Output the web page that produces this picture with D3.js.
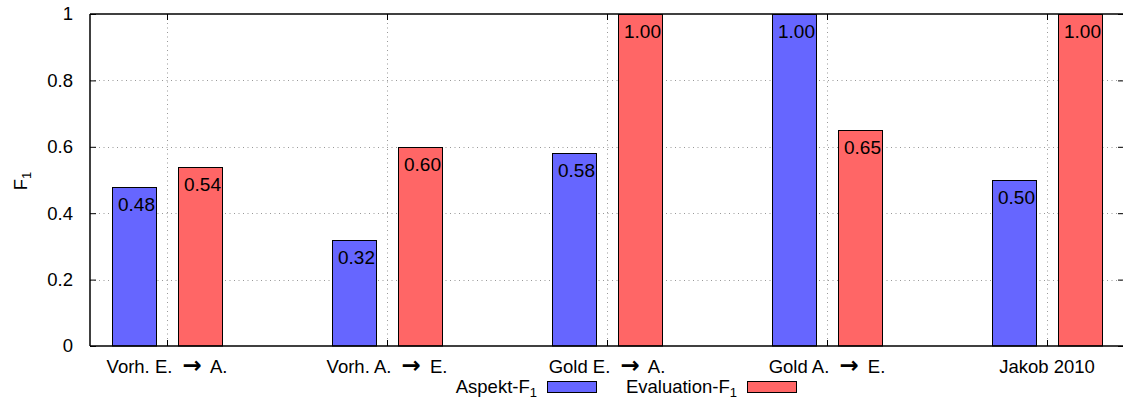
<!DOCTYPE html>
<html>
<head>
<meta charset="utf-8">
<script src="https://cdn.jsdelivr.net/npm/d3@7"></script>
<style>
  html, body { margin: 0; padding: 0; background: #fff; }
  svg { display: block; font-family: "Liberation Sans", Arial, Helvetica, sans-serif; }
</style>
</head>
<body>
<svg id="chart" width="1123" height="399"></svg>
<script>
// Setups compared (source, target) and the Jakob 2010 baseline
const categories = [
  ["Vorh. E.", "A."],
  ["Vorh. A.", "E."],
  ["Gold E.", "A."],
  ["Gold A.", "E."],
  ["Jakob 2010", null]
];
const aspektF1 = [0.48, 0.32, 0.58, 1.00, 0.50];
const evaluationF1 = [0.54, 0.60, 1.00, 0.65, 1.00];
const yTicks = [0, 0.2, 0.4, 0.6, 0.8, 1];
const seriesNames = ["Aspekt", "Evaluation"];
const seriesColors = ["#6666ff", "#ff6666"];

const svg = d3.select("#chart");
const plotL = 90, plotR = 1124, plotT = 14, plotB = 346;
const fontSize = 18.5;

const x = d3.scaleLinear().domain([-0.35, 4.35]).range([plotL, plotR]);
const y = d3.scaleLinear().domain([0, 1]).range([plotB, plotT]);

const barOffset = 0.15, barWidth = 0.2;

// grid
const grid = svg.append("g").attr("stroke", "#999").attr("stroke-width", 1)
  .attr("stroke-dasharray", "1,3.5");
grid.selectAll("line.h").data(yTicks.slice(1, -1)).join("line")
  .attr("x1", plotL).attr("x2", plotR)
  .attr("y1", d => Math.round(y(d)) + 0.5).attr("y2", d => Math.round(y(d)) + 0.5);
grid.selectAll("line.v").data(d3.range(categories.length)).join("line")
  .attr("x1", d => Math.round(x(d)) + 0.5).attr("x2", d => Math.round(x(d)) + 0.5)
  .attr("y1", plotT).attr("y2", plotB);

// bars
const series = [aspektF1, evaluationF1];
series.forEach((vals, s) => {
  const off = s === 0 ? -barOffset : barOffset;
  const g = svg.append("g");
  g.selectAll("rect").data(vals).join("rect")
    .attr("x", (d, i) => Math.round(x(i + off - barWidth / 2)) + 0.5)
    .attr("width", Math.round(x(barWidth) - x(0)))
    .attr("y", d => Math.round(y(d)) + 0.5)
    .attr("height", d => y(0) - Math.round(y(d)) - 0.5)
    .attr("fill", seriesColors[s])
    .attr("stroke", "#000").attr("stroke-width", 1);
  g.selectAll("text").data(vals).join("text")
    .attr("x", (d, i) => x(i + off + barWidth / 2) - 1)
    .attr("y", d => y(d) + 24)
    .attr("text-anchor", "end")
    .attr("font-size", 19)
    .attr("fill", "#000")
    .text(d => d.toFixed(2));
});

// frame
const frame = svg.append("g").attr("stroke", "#000").attr("stroke-width", 1.5).attr("fill", "none");
frame.append("line").attr("x1", plotL).attr("x2", plotL).attr("y1", plotT).attr("y2", plotB);
frame.append("line").attr("x1", plotL).attr("x2", plotR).attr("y1", plotB).attr("y2", plotB);
frame.append("line").attr("x1", plotL).attr("x2", plotR).attr("y1", plotT).attr("y2", plotT);
frame.append("line").attr("x1", plotR).attr("x2", plotR).attr("y1", plotT).attr("y2", plotB);

// y axis (ticks inward, mirrored on the right)
const yAxis = d3.axisLeft(y).tickValues(yTicks).tickSize(-6).tickPadding(17)
  .tickFormat(d => d === 0 || d === 1 ? String(d) : d3.format(".1f")(d));
const ya = svg.append("g").attr("transform", `translate(${plotL},0)`).call(yAxis);
ya.select(".domain").remove();
ya.selectAll("line").attr("stroke", "#000").attr("stroke-width", 1);
ya.selectAll("text").attr("font-size", fontSize).attr("font-family", "Liberation Sans, Arial, sans-serif").attr("fill", "#000");

const yR = svg.append("g").attr("transform", `translate(${plotR},0)`).call(d3.axisRight(y).tickValues(yTicks).tickSize(-6).tickFormat(""));
yR.select(".domain").remove();
yR.selectAll("line").attr("stroke", "#000");

// x ticks inward at bottom and top
const xTickG = svg.append("g").attr("stroke", "#000").attr("stroke-width", 1);
xTickG.selectAll("line.b").data(d3.range(categories.length)).join("line")
  .attr("x1", d => Math.round(x(d)) + 0.5).attr("x2", d => Math.round(x(d)) + 0.5)
  .attr("y1", plotB).attr("y2", plotB - 6);
xTickG.selectAll("line.t").data(d3.range(categories.length)).join("line")
  .attr("x1", d => Math.round(x(d)) + 0.5).attr("x2", d => Math.round(x(d)) + 0.5)
  .attr("y1", plotT).attr("y2", plotT + 6);

// category labels
const xl = svg.append("g").attr("font-size", fontSize).attr("fill", "#000");
categories.forEach((c, i) => {
  const t = xl.append("text").attr("x", x(i)).attr("y", 373).attr("text-anchor", "middle");
  t.append("tspan").text(c[0] + " ");
  if (c[1]) {
    t.append("tspan").text("\u2192").attr("font-weight", "bold")
      .attr("font-family", "DejaVu Sans").attr("font-size", 23).attr("dx", 5);
    t.append("tspan").text(" " + c[1]).attr("dx", 4);
  }
});

// y label
const yl = svg.append("text")
  .attr("transform", "translate(27,181) rotate(-90)")
  .attr("text-anchor", "middle").attr("font-size", fontSize).attr("fill", "#000");
yl.append("tspan").text("F");
yl.append("tspan").text("1").attr("font-size", 13).attr("dy", 4);

// legend
const legend = [
  { textEnd: 537, sx: 547 },
  { textEnd: 737, sx: 747 }
];
legend.forEach((l, s) => {
  const t = svg.append("text").attr("x", l.textEnd).attr("y", 393)
    .attr("text-anchor", "end").attr("font-size", fontSize).attr("fill", "#000");
  t.append("tspan").text(seriesNames[s] + "-F");
  t.append("tspan").text("1").attr("font-size", 13).attr("dy", 4);
  svg.append("rect").attr("x", l.sx + 0.5).attr("y", 381.5).attr("width", 49).attr("height", 11)
    .attr("fill", seriesColors[s]).attr("stroke", "#000").attr("stroke-width", 1);
});
</script>
</body>
</html>
